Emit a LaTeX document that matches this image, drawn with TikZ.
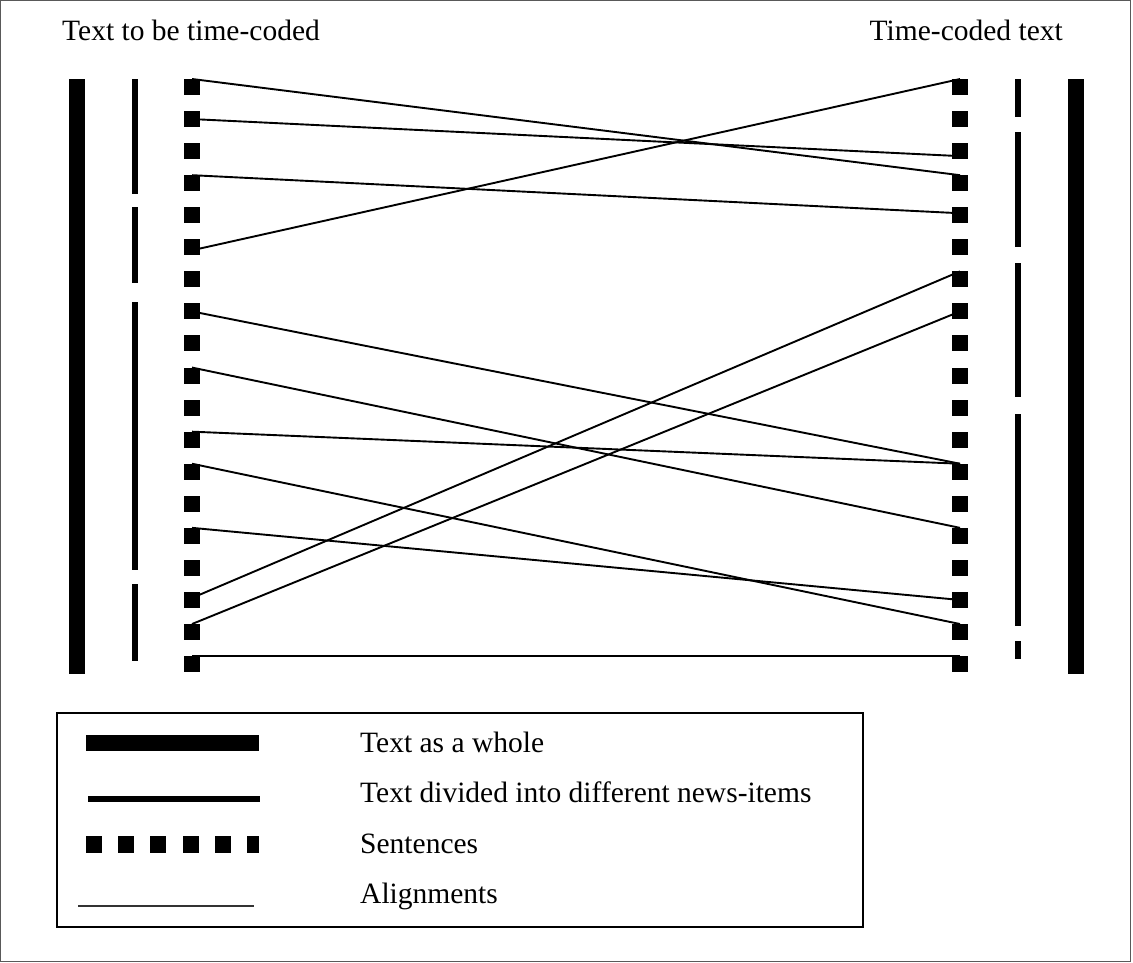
\documentclass[tikz,border=0pt]{standalone}
\usepackage{fontspec}
\setmainfont{Liberation Serif}
\begin{document}
\begin{tikzpicture}[x=1pt,y=-1pt,
  sq/.style={fill=black,draw=none,minimum size=16pt,inner sep=0pt,outer sep=0pt},
  bar/.style={fill=black,draw=none},
  align/.style={line width=1.9pt,line cap=butt},
  lbl/.style={inner sep=0pt,font=\fontsize{29.5}{34}\selectfont}]
\useasboundingbox (0,0) rectangle (1133,962);
\draw[line width=1pt,gray!70!black] (0.5,0.5) rectangle (1130,961.5);
% titles
\node[lbl,anchor=base west] (tl) at (62,40) {Text to be time-coded};
\node[lbl,anchor=base east] (tr) at (1063,40) {Time-coded text};
% thick bars
\fill[bar] (69,79) rectangle (85,674);
\fill[bar] (1068,79) rectangle (1084,674);
% thin segmented bars
\foreach \a/\b in {79/194,207/283,302/570,584/661}
  \fill[bar] (132,\a) rectangle (138,\b);
\foreach \a/\b in {79/117,132/247,263/397,414/626,641/659}
  \fill[bar] (1015,\a) rectangle (1021,\b);
% sentences
\foreach \i in {0,...,18} {
  \node[sq] (L\i) at (192,87+32.06*\i) {};
  \node[sq] (R\i) at (960,87+32.06*\i) {};
}
% alignments
\draw[align] (L0.north) -- (R3.north);
\draw[align] (L1.center) -- ([yshift=-5pt]R2.center);
\draw[align] (L3.north) -- ([yshift=2pt]R4.center);
\draw[align] ([yshift=-3pt]L5.center) -- (R0.north);
\draw[align] (L7.center) -- (R12.north);
\draw[align] (L9.north) -- (R14.north);
\draw[align] (L11.north) -- (R12.north);
\draw[align] (L12.north) -- (R17.north);
\draw[align] (L14.north) -- (R16.center);
\draw[align] ([yshift=2pt]L16.center) -- (R6.north);
\draw[align] (L17.north) -- (R7.center);
\draw[align] (L18.north) -- (R18.north);
% legend
\draw[line width=1.8pt] (57,713) rectangle (863,927);
\fill[bar] (86,735) rectangle (259,751);
\fill[bar] (88,796) rectangle (260,802);
\foreach \k in {0,...,4}
  \fill[bar] (86+32.2*\k,836) rectangle (102+32.2*\k,853);
\fill[bar] (247,836) rectangle (259,853);
\draw[line width=1.5pt,gray!40!black] (78,906) -- (254,906);
\node[lbl,anchor=base west] (l1) at (360,752) {Text as a whole};
\node[lbl,anchor=base west] (l2) at (360,802) {Text divided into different news-items};
\node[lbl,anchor=base west] (l3) at (360,853) {Sentences};
\node[lbl,anchor=base west] (l4) at (360,903) {Alignments};
\end{tikzpicture}
\end{document}
